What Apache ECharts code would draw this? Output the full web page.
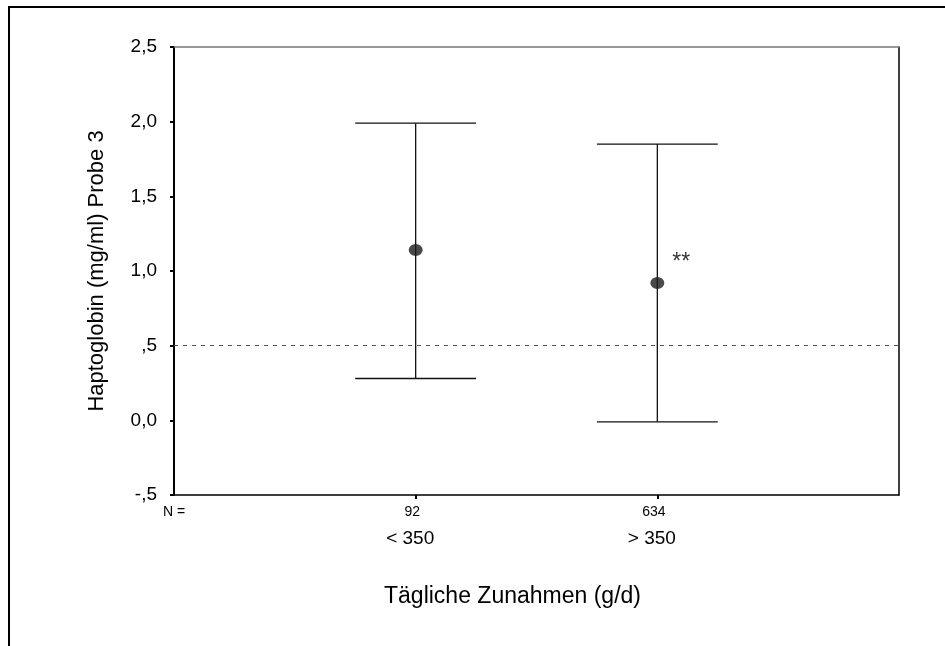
<!DOCTYPE html>
<html><head><meta charset="utf-8">
<script src="https://cdn.jsdelivr.net/npm/echarts@6/dist/echarts.min.js"></script>
<style>html,body{margin:0;padding:0;background:#fff}#c{width:945px;height:646px}</style>
</head><body><div id="c"></div>
<script>
const categories = ['< 350', '> 350'];
const nCounts = ['92', '634'];
const meanValues = [1.14, 0.92];
const upperValues = [1.99, 1.85];
const lowerValues = [0.28, -0.01];
const annotations = ['', '**'];
const refLineValue = 0.5;
const yTickLabels = {'-0.5': '-,5', '0': '0,0', '0.5': ',5', '1': '1,0', '1.5': '1,5', '2': '2,0', '2.5': '2,5'};

const FONT = '"Liberation Sans", Arial, sans-serif';
const chart = echarts.init(document.getElementById('c'));
const positions = categories.map((c, i) => i + 1);

chart.setOption({
  animation: false,
  backgroundColor: '#fff',
  textStyle: { fontFamily: FONT },
  graphic: [{
    type: 'rect', shape: { x: 9, y: 7, width: 1200, height: 1200 },
    style: { fill: 'none', stroke: '#000', lineWidth: 2 }, silent: true, z: 0
  }],
  grid: { left: 174, top: 47, right: 46, bottom: 151, containLabel: false },
  xAxis: [{
    type: 'value', min: 0, max: 3, interval: 1, position: 'bottom',
    name: 'Tägliche Zunahmen (g/d)', nameLocation: 'middle', nameGap: 90,
    nameTextStyle: { fontSize: 23, color: '#000', fontFamily: FONT, padding: [0, 48, 0, 0] },
    axisLine: { show: true, onZero: false, lineStyle: { color: '#000', width: 1.5 } },
    axisTick: { show: true, customValues: [1, 2], length: 4, lineStyle: { color: '#000', width: 2 } },
    axisLabel: {
      customValues: [0, 1, 2], margin: 8, color: '#000',
      formatter: v => v === 0 ? '{n0|N =}' : '{n|' + nCounts[v - 1] + '}\n{g|' + categories[v - 1] + '}',
      rich: {
        n0: { fontSize: 14, lineHeight: 18, fontFamily: FONT, color: '#000' },
        n: { fontSize: 14, lineHeight: 18, fontFamily: FONT, color: '#000', padding: [0, 7, 0, 0] },
        g: { fontSize: 19, lineHeight: 36, fontFamily: FONT, color: '#000', padding: [0, 11, 0, 0] }
      }
    },
    splitLine: { show: false }
  }, {
    type: 'value', min: 0, max: 3, position: 'top',
    axisLine: { show: true, onZero: false, lineStyle: { color: '#777', width: 1.5 } },
    axisTick: { show: false }, axisLabel: { show: false }, splitLine: { show: false }
  }],
  yAxis: [{
    type: 'value', min: -0.5, max: 2.5, interval: 0.5,
    name: 'Haptoglobin (mg/ml) Probe 3', nameLocation: 'middle', nameGap: 66,
    nameTextStyle: { fontSize: 22, color: '#000', fontFamily: FONT },
    axisLine: { show: true, onZero: false, lineStyle: { color: '#000', width: 2 } },
    axisTick: { show: true, length: 4, inside: false, lineStyle: { color: '#000', width: 2 } },
    axisLabel: { margin: 17, fontSize: 19, color: '#000', fontFamily: FONT,
      formatter: v => yTickLabels[String(Math.round(v * 10) / 10)] ?? '' },
    splitLine: { show: false }
  }, {
    type: 'value', min: -0.5, max: 2.5, position: 'right',
    axisLine: { show: true, onZero: false, lineStyle: { color: '#000', width: 1.5 } },
    axisTick: { show: false }, axisLabel: { show: false }, splitLine: { show: false }
  }],
  series: [{
    type: 'custom',
    data: positions.map((p, i) => [p, lowerValues[i], upperValues[i]]),
    renderItem: (params, api) => {
      const x = api.value(0);
      const lo = api.coord([x, api.value(1)]);
      const hi = api.coord([x, api.value(2)]);
      const l = api.coord([x - 0.25, 0])[0];
      const r = api.coord([x + 0.25, 0])[0];
      const st = { stroke: '#111', lineWidth: 1.3 };
      return { type: 'group', children: [
        { type: 'line', shape: { x1: lo[0], y1: lo[1], x2: hi[0], y2: hi[1] }, style: st },
        { type: 'line', shape: { x1: l, y1: hi[1], x2: r, y2: hi[1] }, style: st },
        { type: 'line', shape: { x1: l, y1: lo[1], x2: r, y2: lo[1] }, style: st }
      ]};
    },
    z: 2
  }, {
    type: 'scatter',
    data: positions.map((p, i) => ({ value: [p, meanValues[i]], label: { show: !!annotations[i], formatter: annotations[i] } })),
    symbol: 'circle', symbolSize: [14, 12],
    itemStyle: { color: '#1c1c1c' },
    label: { position: 'right', distance: 0, offset: [8, -20], fontSize: 23, color: '#000', fontFamily: FONT },
    z: 3,
    markLine: {
      silent: true, symbol: 'none', label: { show: false },
      lineStyle: { type: [4, 5], color: '#555', width: 1.2 },
      data: [{ yAxis: refLineValue }]
    }
  }]
});
</script></body></html>
